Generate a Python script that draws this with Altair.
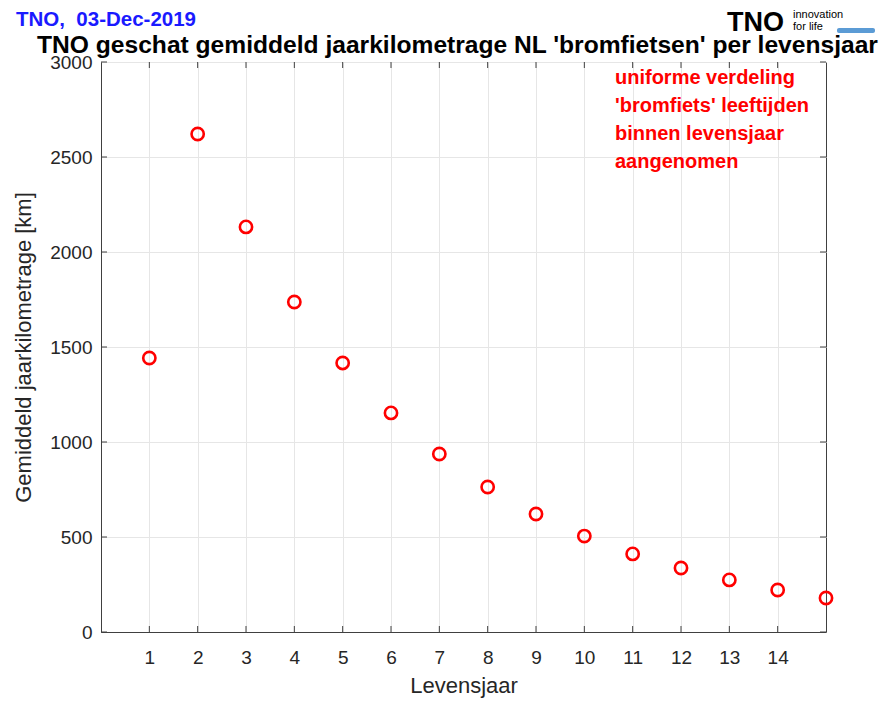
import altair as alt
import pandas as pd

years = list(range(1, 16))
km = [1442, 2621, 2132, 1737, 1416, 1153, 937, 763, 621, 505, 411, 337, 274, 221, 179]
x_ticks = list(range(1, 15))
y_ticks = [0, 500, 1000, 1500, 2000, 2500, 3000]
note_lines = ["uniforme verdeling", "'bromfiets' leeftijden", "binnen levensjaar", "aangenomen"]

W, H = 725, 570
FONT = "Liberation Sans"

df = pd.DataFrame({"jaar": years, "km": km})
xs = alt.Scale(domain=[0, 15], nice=False, zero=False)
ys = alt.Scale(domain=[0, 3000], nice=False)

base = alt.Chart(df)

points = base.mark_point(shape="circle", filled=False, color="#ff0000", size=150, strokeWidth=2.6,
                         opacity=1, clip=False).encode(
    x=alt.X("jaar:Q", scale=xs, title="Levensjaar",
            axis=alt.Axis(values=x_ticks, grid=True, gridColor="#e6e6e6", tickSize=0, labelFontSize=19,
                          labelColor="#262626", titleFontSize=22, titleColor="#262626", titleFontWeight="normal",
                          labelFont=FONT, titleFont=FONT, labelPadding=16, titlePadding=8, domainColor="#404040",
                          format="d")),
    y=alt.Y("km:Q", scale=ys, title="Gemiddeld jaarkilometrage [km]",
            axis=alt.Axis(values=y_ticks, grid=True, gridColor="#e6e6e6", tickSize=0, labelFontSize=19,
                          labelColor="#262626", titleFontSize=22, titleColor="#262626", titleFontWeight="normal",
                          labelFont=FONT, titleFont=FONT, labelPadding=9, titlePadding=14, domainColor="#404040",
                          format="d")),
)

xt = pd.DataFrame({"t": x_ticks})
xtick_bot = alt.Chart(xt).mark_rule(color="#404040").encode(
    x=alt.X("t:Q", scale=xs), y=alt.value(H), y2=alt.value(H - 6))
xtick_top = alt.Chart(xt).mark_rule(color="#404040").encode(
    x=alt.X("t:Q", scale=xs), y=alt.value(0), y2=alt.value(6))
yt = pd.DataFrame({"t": y_ticks})
ytick_l = alt.Chart(yt).mark_rule(color="#404040").encode(
    y=alt.Y("t:Q", scale=ys), x=alt.value(0), x2=alt.value(6))
ytick_r = alt.Chart(yt).mark_rule(color="#404040").encode(
    y=alt.Y("t:Q", scale=ys), x=alt.value(W), x2=alt.value(W - 6))

note = alt.Chart(pd.DataFrame({"a": [1]})).mark_text(
    align="left", baseline="middle", color="#ff0000", fontSize=20, fontWeight="bold", font=FONT,
    lineBreak="\n", lineHeight=28).encode(
    x=alt.value(514), y=alt.value(16), text=alt.value("\n".join(note_lines)))

title = alt.Chart(pd.DataFrame({"t": ["TNO geschat gemiddeld jaarkilometrage NL 'bromfietsen' per levensjaar"]})).mark_text(
    align="center", baseline="middle", fontSize=24.6, fontWeight="bold", color="#000000", font=FONT).encode(
    x=alt.value(W / 2 - 6), y=alt.value(-16), text="t:N")

stamp = alt.Chart(pd.DataFrame({"t": ["TNO,\u00a0 03-Dec-2019"]})).mark_text(
    align="left", baseline="middle", fontSize=20.5, fontWeight="bold", color="#1a1aff", font=FONT).encode(
    x=alt.value(-85), y=alt.value(-42), text="t:N")

logo = alt.Chart(pd.DataFrame({"t": ["TNO"]})).mark_text(
    align="left", baseline="middle", fontSize=27, fontWeight=900, color="#000000", font=FONT).encode(
    x=alt.value(626), y=alt.value(-39), text="t:N")
logo2 = alt.Chart(pd.DataFrame({"t": ["innovation"]})).mark_text(
    align="left", baseline="middle", fontSize=11, color="#000000", font=FONT).encode(
    x=alt.value(692), y=alt.value(-47), text="t:N")
logo3 = alt.Chart(pd.DataFrame({"t": ["for life"]})).mark_text(
    align="left", baseline="middle", fontSize=11, color="#000000", font=FONT).encode(
    x=alt.value(692), y=alt.value(-35), text="t:N")
logo_bar = alt.Chart(pd.DataFrame({"a": [1]})).mark_rect(color="#5b9bd5", cornerRadius=2).encode(
    x=alt.value(736), x2=alt.value(774), y=alt.value(-34), y2=alt.value(-29))

chart = alt.layer(points, xtick_bot, xtick_top, ytick_l, ytick_r, note, title, stamp, logo, logo2, logo3, logo_bar).properties(
    width=W, height=H, autosize="none",
    padding={"left": 93, "top": 54, "right": 54, "bottom": 70},
    background="white",
).configure_view(stroke="#404040", strokeWidth=1)

chart.save("out.html", embed_options={"renderer": "svg", "actions": False})
